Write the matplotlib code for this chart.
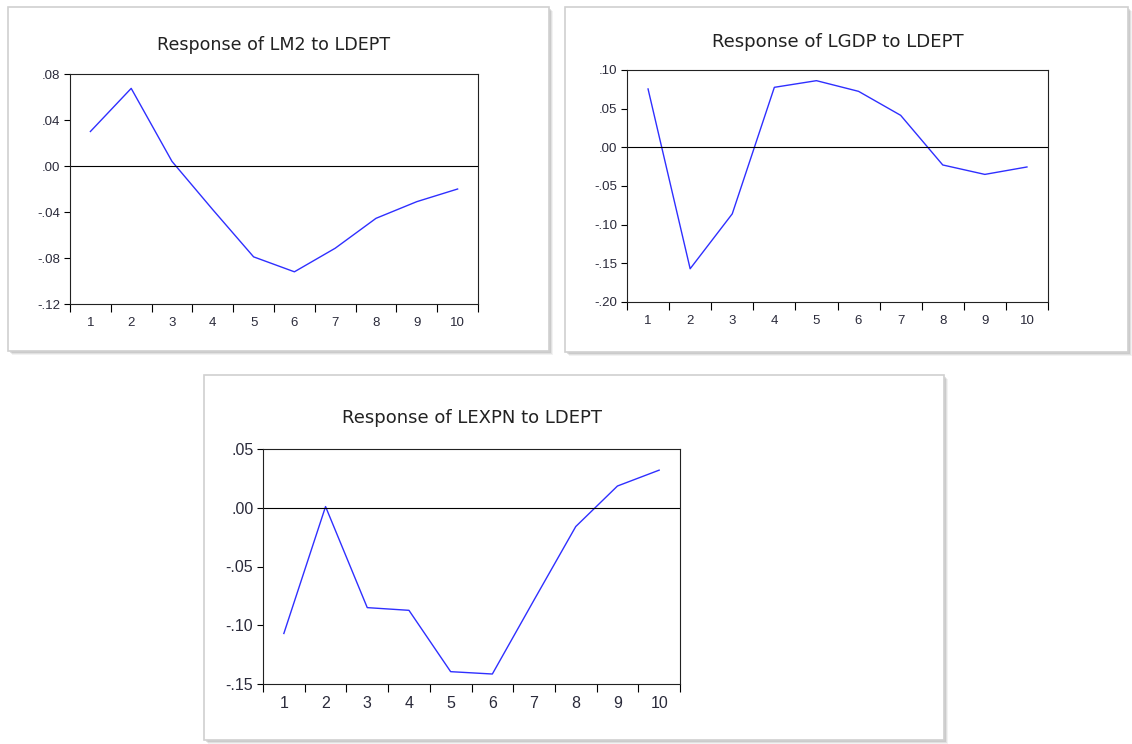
import numpy as np
import matplotlib.pyplot as plt
from matplotlib.patches import Rectangle
from matplotlib.ticker import FuncFormatter, FixedLocator

plt.rcParams['font.family'] = ['Liberation Sans', 'DejaVu Sans']

# data
periods = [1, 2, 3, 4, 5, 6, 7, 8, 9, 10]
lm2 = [0.030, 0.0675, 0.004, -0.038, -0.079, -0.092, -0.0715, -0.0455, -0.031, -0.020]
lgdp = [0.0755, -0.157, -0.086, 0.0776, 0.0862, 0.0724, 0.0414, -0.0228, -0.035, -0.0254]
lexpn = [-0.107, 0.001, -0.085, -0.0873, -0.1395, -0.1415, -0.0785, -0.016, 0.0185, 0.032]

titles = ['Response of LM2 to LDEPT', 'Response of LGDP to LDEPT', 'Response of LEXPN to LDEPT']
series = [lm2, lgdp, lexpn]
yticks = [[0.08, 0.04, 0.00, -0.04, -0.08, -0.12],
          [0.10, 0.05, 0.00, -0.05, -0.10, -0.15, -0.20],
          [0.05, 0.00, -0.05, -0.10, -0.15]]

W, H = 1132, 744
fig = plt.figure(figsize=(W / 100, H / 100), dpi=100)


def px_box(x0, y0, x1, y1):
    # pixel box (top-left origin) -> figure fraction [l, b, w, h]
    return [x0 / W, 1 - y1 / H, (x1 - x0) / W, (y1 - y0) / H]


def frame(x0, y0, x1, y1):
    # soft drop shadow, a few layers
    for i, a in enumerate([0.10, 0.14, 0.22]):
        off = 4 - i
        l, b, w, h = px_box(x0 + off, y0 + off, x1 + off, y1 + off)
        fig.patches.append(Rectangle((l, b), w, h, transform=fig.transFigure,
                                     facecolor='#808080', edgecolor='none', alpha=a, zorder=0))
    l, b, w, h = px_box(x0, y0, x1, y1)
    fig.patches.append(Rectangle((l, b), w, h, transform=fig.transFigure,
                                 facecolor='white', edgecolor='#d0d0d0', lw=1.2, zorder=1))


frame(8, 7, 549, 351)
frame(565, 7, 1128, 352)
frame(204, 375, 944, 740)

axes_px = [(70, 74, 478, 304), (627, 70, 1048, 302), (263, 449, 680, 684)]
title_y = [45, 42, 418]
title_fs = [12.6, 13.1, 13]
tick_fs = [9.5, 9.5, 11.5]

fmt = FuncFormatter(lambda v, p: ('%.2f' % v).replace('0.', '.', 1) if abs(v) > 1e-9 else '.00')

for k in range(3):
    x0, y0, x1, y1 = axes_px[k]
    ax = fig.add_axes(px_box(x0, y0, x1, y1), zorder=2)
    ax.plot(periods, series[k], color='#2f2fff', lw=1.0)
    ax.axhline(0, color='black', lw=0.8)
    ax.set_xlim(0.5, 10.5)
    ax.set_ylim(yticks[k][-1], yticks[k][0])
    ax.yaxis.set_major_locator(FixedLocator(yticks[k]))
    ax.yaxis.set_major_formatter(fmt)
    # ticks at the category boundaries, labels at centres
    ax.set_xticks(np.arange(0.5, 11.5, 1.0))
    ax.set_xticklabels([])
    ax.set_xticks(periods, minor=True)
    ax.set_xticklabels([str(p) for p in periods], minor=True)
    ax.tick_params(axis='x', which='major', direction='out', length=6, width=0.8)
    ax.tick_params(axis='x', which='minor', length=0, pad=9, labelsize=tick_fs[k], labelcolor='#2a2a3a')
    ax.tick_params(axis='y', direction='out', length=4, width=0.8, pad=3,
                   labelsize=tick_fs[k], labelcolor='#2a2a3a')
    for s in ax.spines.values():
        s.set_linewidth(0.8)
        s.set_color('#222222')
    fig.text((x0 + x1) / 2 / W, 1 - title_y[k] / H, titles[k], ha='center', va='center',
             fontsize=title_fs[k], color='#222222', family=['DejaVu Sans'], zorder=3)

plt.savefig('out.png', dpi=100)
plt.close()
